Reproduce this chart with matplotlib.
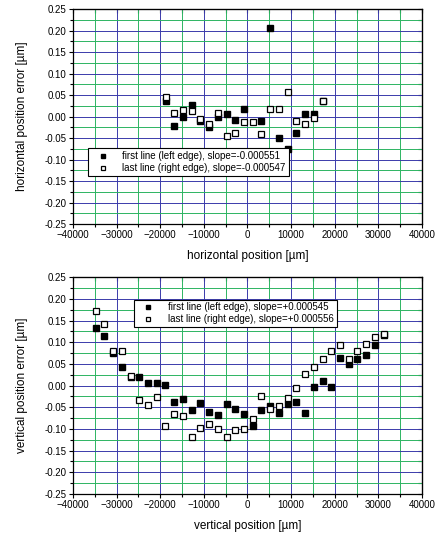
import numpy as np
import matplotlib.pyplot as plt
from matplotlib.ticker import MultipleLocator

plt.rcParams['font.family'] = ['Liberation Sans', 'DejaVu Sans']

# horizontal scan (top panel)
h_pos = [-18700, -16800, -14800, -12800, -10800, -8800, -6800, -4800, -2800, -800,
         1200, 3200, 5200, 7200, 9200, 11200, 13200, 15200, 17200]
h_first = [0.037, -0.022, -0.002, 0.026, -0.010, -0.025, 0.000, 0.005, -0.008, 0.017,
           -0.095, -0.010, 0.207, -0.049, -0.075, -0.038, 0.006, 0.006, 0.037]
h_last = [0.045, 0.008, 0.016, 0.012, -0.006, -0.017, 0.008, -0.045, -0.037, -0.012,
          -0.013, -0.041, 0.017, 0.018, 0.057, -0.010, -0.017, -0.004, 0.036]

# vertical scan (bottom panel)
v_pos = [-34800, -32800, -30800, -28800, -26800, -24800, -22800, -20800, -18800, -16800,
         -14800, -12800, -10800, -8800, -6800, -4800, -2800, -800, 1200, 3200,
         5200, 7200, 9200, 11200, 13200, 15200, 17200, 19200, 21200, 23200,
         25200, 27200, 29200, 31200]
v_first = [0.133, 0.115, 0.076, 0.042, 0.021, 0.019, 0.007, 0.006, 0.001, -0.037,
           -0.030, -0.057, -0.040, -0.060, -0.067, -0.043, -0.054, -0.066, -0.092, -0.057,
           -0.048, -0.064, -0.042, -0.037, -0.062, -0.004, 0.011, -0.004, 0.064, 0.051,
           0.061, 0.070, 0.093, 0.118]
v_last = [0.172, 0.142, 0.080, 0.080, 0.022, -0.033, -0.045, -0.027, -0.092, -0.065,
          -0.070, -0.118, -0.097, -0.088, -0.100, -0.118, -0.102, -0.100, -0.076, -0.025,
          -0.055, -0.048, -0.028, -0.006, 0.027, 0.042, 0.061, 0.079, 0.093, 0.061,
          0.080, 0.096, 0.113, 0.120]

h_labels = ['first line (left edge), slope=-0.000551', 'last line (right edge), slope=-0.000547']
v_labels = ['first line (left edge), slope=+0.000545', 'last line (right edge), slope=+0.000556']

fig = plt.figure(figsize=(4.36, 5.37), dpi=100)
ax1 = fig.add_axes([0.1674, 0.5829, 0.8005, 0.3998])
ax2 = fig.add_axes([0.1674, 0.0801, 0.8005, 0.4035])


def style(ax, xlabel, ylabel):
    ax.set_xlim(-40000, 40000)
    ax.set_ylim(-0.25, 0.25)
    ax.xaxis.set_major_locator(MultipleLocator(10000))
    ax.xaxis.set_minor_locator(MultipleLocator(5000))
    ax.yaxis.set_major_locator(MultipleLocator(0.05))
    ax.yaxis.set_minor_locator(MultipleLocator(0.025))
    ax.yaxis.set_major_formatter(lambda v, p: f'{v:.2f}'.replace('-0.00', '0.00'))
    ax.grid(True, which='major', color='#3b3bab', lw=0.7)
    ax.grid(True, which='minor', color='#2db462', lw=0.7)
    ax.set_axisbelow(True)
    ax.tick_params(which='both', direction='out', length=3, width=0.8,
                   labelsize=7, top=False, right=False, pad=1.5)
    ax.tick_params(which='minor', length=2)
    for s in ax.spines.values():
        s.set_linewidth(0.9)
    ax.set_xlabel(xlabel, fontsize=8.5, labelpad=7)
    ax.set_ylabel(ylabel, fontsize=8.5, labelpad=12)
    sec_kw = dict(which='both', direction='in', length=3, width=0.8)
    tx = ax.secondary_xaxis('top')
    tx.xaxis.set_major_locator(MultipleLocator(10000))
    tx.xaxis.set_minor_locator(MultipleLocator(5000))
    tx.tick_params(labeltop=False, **sec_kw)
    ty = ax.secondary_yaxis('right')
    ty.yaxis.set_major_locator(MultipleLocator(0.05))
    ty.yaxis.set_minor_locator(MultipleLocator(0.025))
    ty.tick_params(labelright=False, **sec_kw)


def points(ax, x, first, last, labels, loc):
    ax.plot(x, first, 's', ms=4.2, color='black', mec='black', label=labels[0], zorder=3)
    ax.plot(x, last, 's', ms=4.2, mfc='white', mec='black', mew=0.9, label=labels[1], zorder=4)
    leg = ax.legend(loc='upper left', bbox_to_anchor=loc, fontsize=7, frameon=True,
                    fancybox=False, edgecolor='black', framealpha=1, borderpad=0.3,
                    handletextpad=0.8, handlelength=2.4, labelspacing=0.2, markerscale=0.85)
    leg.get_frame().set_linewidth(0.8)
    leg.set_zorder(5)


points(ax1, h_pos, h_first, h_last, h_labels, (0.030, 0.376))
points(ax2, v_pos, v_first, v_last, v_labels, (0.16, 0.92))
style(ax1, 'horizontal position [µm]', 'horizontal position error [µm]')
style(ax2, 'vertical position [µm]', 'vertical position error [µm]')

fig.savefig('out.png', dpi=100)
